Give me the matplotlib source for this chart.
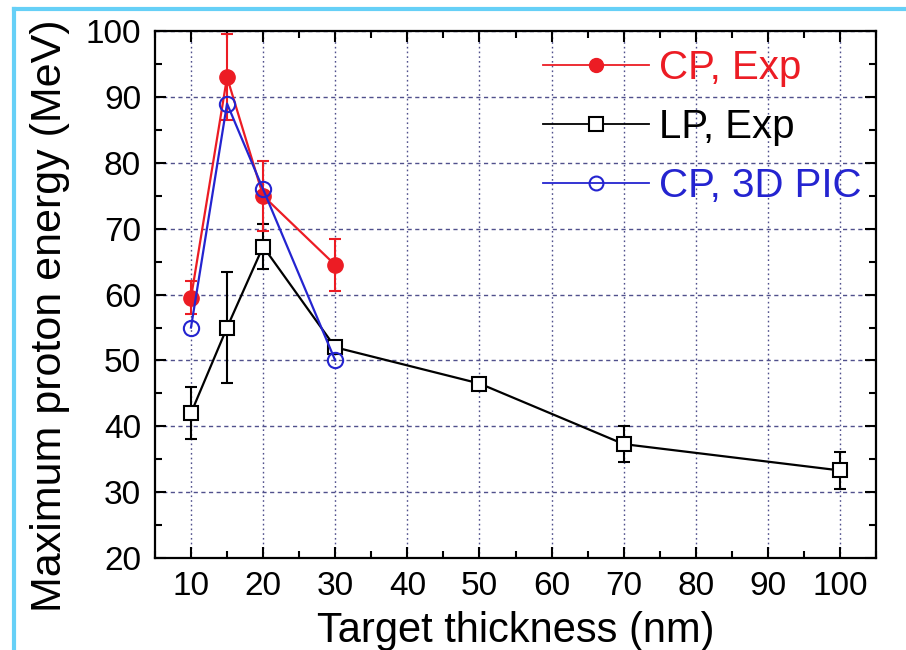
import matplotlib
matplotlib.use('Agg')
import matplotlib.pyplot as plt
from matplotlib.lines import Line2D
from matplotlib.ticker import MultipleLocator

plt.rcParams['font.family'] = ['Liberation Sans', 'DejaVu Sans']

# Target thickness (nm) and maximum proton energy (MeV)
cp_x = [10, 15, 20, 30]
cp_y = [59.5, 93.0, 75.0, 64.5]
cp_err = [2.5, 6.5, 5.3, 4.0]

lp_x = [10, 15, 20, 30, 50, 70, 100]
lp_y = [42.0, 55.0, 67.3, 52.0, 46.5, 37.3, 33.3]
lp_err = [3.9, 8.4, 3.4, 0.8, 0.8, 2.7, 2.8]

pic_x = [10, 15, 20, 30]
pic_y = [55.0, 89.0, 76.0, 50.0]

red = '#ec1c24'
blue = '#2424d0'

fig = plt.figure(figsize=(9.06, 6.5), dpi=100)
ax = fig.add_axes([0.171, 0.1415, 0.796, 0.8105])

# error bars first so markers sit on top
ax.errorbar(lp_x, lp_y, yerr=lp_err, fmt='none', ecolor='black', elinewidth=1.5, capsize=4, capthick=1.5, zorder=3)
ax.errorbar(cp_x, cp_y, yerr=cp_err, fmt='none', ecolor=red, elinewidth=1.5, capsize=4, capthick=1.5, zorder=4)

ax.plot(cp_x, cp_y, color=red, lw=1.6, marker='o', ms=11, mfc=red, mec=red, label='CP, Exp', zorder=5)
ax.plot(lp_x, lp_y, color='black', lw=1.6, marker='s', ms=10, mfc='white', mec='black', mew=1.5, label='LP, Exp', zorder=4)
ax.plot(pic_x, pic_y, color=blue, lw=1.6, marker='o', ms=11, mfc='none', mec=blue, mew=1.5, label='CP, 3D PIC', zorder=6)

ax.set_xlim(5, 105)
ax.set_ylim(20, 100)
ax.xaxis.set_major_locator(MultipleLocator(10))
ax.xaxis.set_minor_locator(MultipleLocator(5))
ax.yaxis.set_major_locator(MultipleLocator(10))
ax.yaxis.set_minor_locator(MultipleLocator(5))

ax.tick_params(which='both', direction='in', top=True, right=True, width=1.5, labelsize=24)
ax.tick_params(which='major', length=8)
ax.tick_params(which='minor', length=5)
ax.tick_params(axis='x', pad=9)
ax.tick_params(axis='y', pad=10)
for s in ax.spines.values():
    s.set_linewidth(1.6)

# grid: dotted verticals, dashed horizontals
ax.xaxis.grid(True, color='#50508c', linestyle=(0, (1.2, 2.2)), linewidth=1.0)
ax.yaxis.grid(True, color='#50508c', linestyle=(0, (3, 2.5)), linewidth=1.0)
ax.set_axisbelow(True)

ax.set_xlabel('Target thickness (nm)', fontsize=30, labelpad=7)
ax.set_ylabel('Maximum proton energy (MeV)', fontsize=31)
ax.yaxis.set_label_coords(-0.118, 0.46)

leg = ax.legend(loc='upper right', bbox_to_anchor=(1.0, 0.993), frameon=False, fontsize=29,
                numpoints=1, handlelength=2.63, handletextpad=0.25, labelspacing=0.52,
                labelcolor='linecolor', borderaxespad=0.2, borderpad=0.15)
for h in leg.legend_handles:
    h.set_markersize(10)
    h.set_linewidth(1.3)

# light blue frame around the panel
fig.add_artist(Line2D([0.016, 1.0], [0.986, 0.986], color='#66d0f7', lw=3, transform=fig.transFigure))
fig.add_artist(Line2D([0.016, 0.016], [0.0, 0.986], color='#66d0f7', lw=3, transform=fig.transFigure))

fig.savefig('out.png', dpi=100)
